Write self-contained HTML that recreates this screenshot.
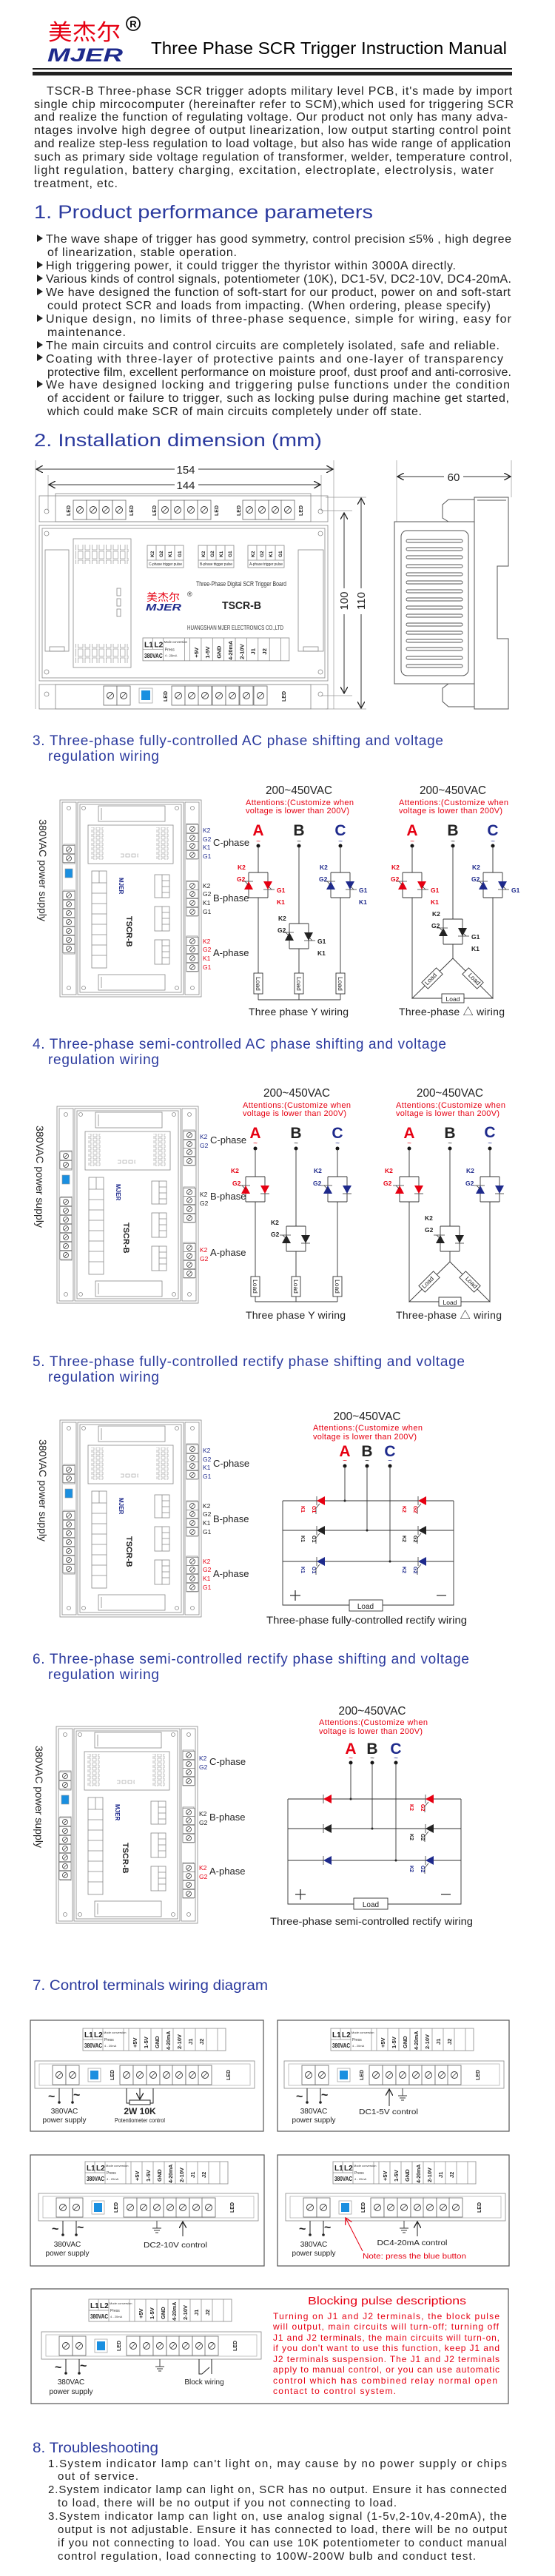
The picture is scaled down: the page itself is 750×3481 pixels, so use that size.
<!DOCTYPE html>
<html><head><meta charset="utf-8">
<style>
html,body{margin:0;padding:0;background:#fff;}
svg{display:block;}
text{font-family:"Liberation Sans","Noto Sans CJK SC",sans-serif;}
</style></head>
<body>
<svg xmlns="http://www.w3.org/2000/svg" xmlns:xlink="http://www.w3.org/1999/xlink" width="750" height="3481" viewBox="0 0 750 3481">
<defs>
<marker id="ar" markerWidth="10" markerHeight="10" refX="9" refY="5" orient="auto" markerUnits="userSpaceOnUse"><path d="M0,0L9,5L0,10" fill="none" stroke="#222" stroke-width="1.3"/></marker>
<marker id="arr" markerWidth="10" markerHeight="10" refX="9" refY="5" orient="auto" markerUnits="userSpaceOnUse"><path d="M0,0L9,5L0,10" fill="none" stroke="#e60012" stroke-width="1.3"/></marker>
<pattern id="sq" width="8" height="6" patternUnits="userSpaceOnUse"><rect x="1" y="1" width="5" height="4" fill="none" stroke="#999" stroke-width=".6"/></pattern>
<pattern id="sq2" width="9.5" height="12" patternUnits="userSpaceOnUse"><rect x="1" y="1" width="6.5" height="10" fill="none" stroke="#999" stroke-width=".7"/></pattern>
<g id="scv"><rect x="-8" y="-5.5" width="16" height="11" fill="#fff" stroke="#777" stroke-width=".7"/><circle r="3.5" fill="none" stroke="#333" stroke-width=".8"/><path d="M-2,2L2,-2" stroke="#333" stroke-width=".7"/></g>
<g id="sch"><rect x="-9" y="-13" width="18" height="26" fill="#fff" stroke="#666" stroke-width=".8"/><circle r="4.5" fill="none" stroke="#333" stroke-width=".9"/><path d="M-3,3L3,-3" stroke="#333" stroke-width=".8"/></g>
<g id="bd">
 <g fill="none" stroke="#888" stroke-width=".8">
 <rect x="0" y="0" width="191" height="266"/>
 <rect x="3" y="3" width="19" height="260"/>
 <rect x="169" y="3" width="19" height="260"/>
 <rect x="24" y="3" width="143" height="260"/>
 <rect x="27" y="6" width="137" height="254"/>
 <circle cx="12" cy="11" r="2.5"/><circle cx="179" cy="11" r="2.5"/><circle cx="12" cy="254" r="2.5"/><circle cx="179" cy="254" r="2.5"/>
 <circle cx="32" cy="11" r="2.5"/><circle cx="158" cy="11" r="2.5"/><circle cx="32" cy="254" r="2.5"/><circle cx="158" cy="254" r="2.5"/>
 <rect x="52" y="8" width="90" height="21"/><line x1="56" y1="11" x2="56" y2="27"/>
 <rect x="38" y="34" width="115" height="52"/>
 <rect x="42" y="37" width="17" height="44" fill="url(#sq)" stroke="none"/>
 <rect x="130" y="37" width="17" height="44" fill="url(#sq)" stroke="none"/>
 <rect x="82" y="72" width="24" height="6" fill="url(#sq)" stroke="none"/>
 <rect x="43" y="96" width="20" height="131"/>
 <path d="M43,112H63M43,126H63M43,140H63M43,154H63M43,168H63M43,182H63M43,196H63M43,210H63M53,96V112"/>
 <rect x="128" y="101" width="20" height="31"/><rect x="128" y="144" width="20" height="33"/><rect x="128" y="189" width="20" height="33"/>
 <path d="M138,101V132M138,144V177M138,189V222M138,109H148M138,117H148M138,125H148M138,152H148M138,160H148M138,168H148M138,197H148M138,205H148M138,213H148"/>
 <rect x="52" y="236" width="90" height="21"/><line x1="56" y1="239" x2="56" y2="254"/>
 <rect x="5" y="60" width="15" height="26"/><rect x="5" y="122" width="15" height="86"/>
 <rect x="171" y="32" width="15" height="48"/><rect x="171" y="109" width="15" height="48"/><rect x="171" y="184" width="15" height="48"/>
 </g>
 <use xlink:href="#scv" x="12" y="67"/><use xlink:href="#scv" x="12" y="79"/>
 <rect x="7" y="93" width="10" height="12" fill="#1a8fe0" stroke="#999" stroke-width=".6"/>
 <use xlink:href="#scv" x="12" y="129"/><use xlink:href="#scv" x="12" y="141"/><use xlink:href="#scv" x="12" y="153"/><use xlink:href="#scv" x="12" y="165"/><use xlink:href="#scv" x="12" y="177"/><use xlink:href="#scv" x="12" y="189"/><use xlink:href="#scv" x="12" y="201"/>
 <use xlink:href="#scv" x="179" y="39"/><use xlink:href="#scv" x="179" y="51"/><use xlink:href="#scv" x="179" y="62"/><use xlink:href="#scv" x="179" y="74"/>
 <use xlink:href="#scv" x="179" y="116"/><use xlink:href="#scv" x="179" y="127"/><use xlink:href="#scv" x="179" y="139"/><use xlink:href="#scv" x="179" y="151"/>
 <use xlink:href="#scv" x="179" y="191"/><use xlink:href="#scv" x="179" y="202"/><use xlink:href="#scv" x="179" y="214"/><use xlink:href="#scv" x="179" y="226"/>
</g>
<g id="pr">
 <path d="M-13,0H13M-13,0V34M13,0V34M-13,34H13" fill="none" stroke="#333" stroke-width=".9"/>
 <polygon points="-19,23 -7,23 -13,12" fill="currentColor"/><path d="M-19,12H-7M-13,17l-5,-5h-4" stroke="#333" stroke-width=".8" fill="none"/>
 <polygon points="7,12 19,12 13,23" fill="currentColor"/><path d="M7,23H19M13,18l5,5h4" stroke="#333" stroke-width=".8" fill="none"/>
</g>
<g id="ps">
 <path d="M-13,0H13M-13,0V34M13,0V34M-13,34H13" fill="none" stroke="#333" stroke-width=".9"/>
 <polygon points="-19,23 -7,23 -13,12" fill="currentColor"/><path d="M-19,12H-7M-13,17l-5,-5h-4" stroke="#333" stroke-width=".8" fill="none"/>
 <polygon points="7,12 19,12 13,23" fill="currentColor"/><path d="M7,23H19" stroke="#333" stroke-width=".8" fill="none"/>
</g>
<g id="dg"><polygon points="6,-6 6,6 -5,0" fill="currentColor"/><path d="M-5,-6V6M-1,4l-5,6v8" stroke="#333" stroke-width=".8" fill="none"/></g>
<g id="dp"><polygon points="6,-6 6,6 -5,0" fill="currentColor"/><path d="M-5,-6V6" stroke="#333" stroke-width=".8" fill="none"/></g>
<g id="gnd" stroke="#333" stroke-width=".9"><path d="M0,0V10M-6,10H6M-4,13H4M-2,16H2"/></g>
</defs>

<!-- HEADER -->
<text x="65" y="54" font-family="'Noto Serif CJK SC',serif" font-size="30" fill="#e60012" textLength="98" lengthAdjust="spacingAndGlyphs">美杰尔</text>
<text x="64" y="83" font-size="25" font-weight="bold" font-style="italic" fill="#1e2a8c" textLength="102" lengthAdjust="spacingAndGlyphs">MJER</text>
<circle cx="180" cy="32" r="9" fill="none" stroke="#111" stroke-width="1.8"/><text x="180" y="37" font-size="13" font-weight="bold" text-anchor="middle">R</text>
<text x="204" y="73" font-size="23" textLength="481" lengthAdjust="spacingAndGlyphs">Three Phase SCR Trigger Instruction Manual</text>
<rect x="44" y="92" width="648" height="2" fill="#222"/>
<rect x="44" y="97" width="648" height="5" fill="#222"/>

<g font-size="16" fill="#222" lengthAdjust="spacingAndGlyphs">
<text x="63" y="128" textLength="629">TSCR-B Three-phase SCR trigger  adopts  military level PCB, it's made by import</text>
<text x="46" y="146" textLength="648">single chip mircocomputer (hereinafter refer to SCM),which used for triggering SCR</text>
<text x="46" y="163" textLength="640">and realize the function of regulating voltage. Our product not only has many adva-</text>
<text x="46" y="181" textLength="644">ntages involve high degree of output linearization, low output  starting  control  point</text>
<text x="46" y="199" textLength="644">and realize step-less regulation to load voltage, but  also has wide range of application</text>
<text x="46" y="217" textLength="646">such as primary side voltage regulation of  transformer, welder, temperature control,</text>
<text x="46" y="235" textLength="621">light  regulation,  battery  charging,  excitation,  electroplate,  electrolysis, water</text>
<text x="46" y="253" textLength="113">treatment, etc.</text>
</g>

<text x="46" y="295" font-size="25" fill="#2b3a9e" textLength="458" lengthAdjust="spacingAndGlyphs">1. Product performance parameters</text>
<g fill="#222"><polygon points="50,317 58,322 50,327"/><polygon points="50,353 58,358 50,363"/><polygon points="50,371 58,376 50,381"/><polygon points="50,389 58,394 50,399"/><polygon points="50,425 58,430 50,435"/><polygon points="50,461 58,466 50,471"/><polygon points="50,478 58,483 50,488"/><polygon points="50,514 58,519 50,524"/></g>
<g font-size="16" fill="#222" lengthAdjust="spacingAndGlyphs">
<text x="62" y="328" textLength="629">The wave shape of trigger has good symmetry, control precision ≤5% , high degree</text>
<text x="64" y="346" textLength="256">of linearization, stable operation.</text>
<text x="62" y="364" textLength="554">High triggering power, it could trigger the thyristor within 3000A directly.</text>
<text x="62" y="382" textLength="629">Various kinds of control signals, potentiometer (10K), DC1-5V, DC2-10V, DC4-20mA.</text>
<text x="62" y="400" textLength="628">We have designed the function of soft-start for our product, power on and soft-start</text>
<text x="64" y="418" textLength="599">could protect SCR and loads from impacting. (When ordering, please specify)</text>
<text x="62" y="436" textLength="629">Unique design, no limits of three-phase sequence, simple for wiring, easy for</text>
<text x="64" y="454" textLength="106">maintenance.</text>
<text x="62" y="472" textLength="613">The main circuits and control circuits are completely isolated, safe and reliable.</text>
<text x="62" y="490" textLength="618">Coating with three-layer of protective paints and one-layer of transparency</text>
<text x="64" y="508" textLength="627">protective film, excellent performance on moisture proof, dust proof and anti-corrosive.</text>
<text x="62" y="525" textLength="627">We have designed locking and triggering pulse functions under the condition</text>
<text x="64" y="543" textLength="624">of accident or failure to trigger, such as locking pulse during machine get started,</text>
<text x="64" y="561" textLength="506">which could make SCR of main circuits completely under off state.</text>
</g>

<!-- SECTION 2 -->
<text x="46" y="603" font-size="24" fill="#2b3a9e" textLength="389" lengthAdjust="spacingAndGlyphs">2. Installation dimension (mm)</text>
<g stroke="#333" stroke-width="1" fill="none">
<path d="M48,622V958M451,622V958M65,642V690M434,642V690" stroke="#999" stroke-width=".7"/>
<line x1="236" y1="634" x2="49" y2="634" marker-end="url(#ar)"/><line x1="268" y1="634" x2="450" y2="634" marker-end="url(#ar)"/>
<line x1="236" y1="655" x2="66" y2="655" marker-end="url(#ar)"/><line x1="268" y1="655" x2="433" y2="655" marker-end="url(#ar)"/>
<path d="M434,690H476M434,940H476M440,672H495M440,958H495" stroke="#999" stroke-width=".7"/>
<line x1="465" y1="795" x2="465" y2="693" marker-end="url(#ar)"/><line x1="465" y1="830" x2="465" y2="937" marker-end="url(#ar)"/>
<line x1="488" y1="795" x2="488" y2="673" marker-end="url(#ar)"/><line x1="488" y1="830" x2="488" y2="957" marker-end="url(#ar)"/>
</g>
<g font-size="15" fill="#222">
<text x="251" y="640" text-anchor="middle">154</text><text x="251" y="661" text-anchor="middle">144</text>
<text transform="translate(470,812) rotate(-90)" text-anchor="middle">100</text>
<text transform="translate(493,812) rotate(-90)" text-anchor="middle">110</text>
</g>
<g fill="none" stroke="#888" stroke-width=".8">
<rect x="53" y="670" width="390" height="35"/><rect x="75" y="667" width="345" height="38"/>
<rect x="53" y="710" width="390" height="210"/><rect x="57" y="714" width="382" height="202"/>
<rect x="53" y="925" width="390" height="33"/><rect x="75" y="925" width="345" height="33"/>
<circle cx="63" cy="691" r="3"/><circle cx="433" cy="691" r="3"/><circle cx="63" cy="721" r="3"/><circle cx="433" cy="721" r="3"/>
<circle cx="63" cy="908" r="3"/><circle cx="433" cy="908" r="3"/><circle cx="63" cy="938" r="3"/><circle cx="433" cy="938" r="3"/>
<rect x="61" y="743" width="32" height="137"/><rect x="67" y="874" width="20" height="6"/>
<rect x="403" y="743" width="34" height="137"/><rect x="410" y="874" width="20" height="6"/>
<rect x="99" y="728" width="78" height="174"/>
<rect x="102" y="736" width="72" height="26" fill="url(#sq2)" stroke="none"/>
<rect x="102" y="870" width="72" height="26" fill="url(#sq2)" stroke="none"/>
<rect x="158" y="795" width="5" height="10"/><rect x="158" y="809" width="5" height="10"/><rect x="158" y="823" width="5" height="10"/>
<rect x="199" y="737" width="49" height="30"/><rect x="268" y="737" width="48" height="30"/><rect x="335" y="737" width="49" height="30"/>
<path d="M199,757H248M268,757H316M335,757H384M211,737V757M223,737V757M236,737V757M280,737V757M292,737V757M304,737V757M347,737V757M359,737V757M372,737V757"/>
</g>
<g font-size="6.5" font-weight="bold" fill="#222">
<text transform="translate(208,753) rotate(-90)">K2</text><text transform="translate(220,753) rotate(-90)">G2</text><text transform="translate(232,753) rotate(-90)">K1</text><text transform="translate(245,753) rotate(-90)">G1</text>
<text transform="translate(277,753) rotate(-90)">K2</text><text transform="translate(289,753) rotate(-90)">G2</text><text transform="translate(301,753) rotate(-90)">K1</text><text transform="translate(313,753) rotate(-90)">G1</text>
<text transform="translate(344,753) rotate(-90)">K2</text><text transform="translate(356,753) rotate(-90)">G2</text><text transform="translate(368,753) rotate(-90)">K1</text><text transform="translate(381,753) rotate(-90)">G1</text>
</g>
<g font-size="5" fill="#333"><text x="201" y="764" textLength="45">C-phase trigger pulse</text><text x="270" y="764" textLength="44">B-phase trigger pulse</text><text x="337" y="764" textLength="45">A-phase trigger pulse</text></g>
<text x="265" y="792" font-size="9" fill="#333" textLength="122" lengthAdjust="spacingAndGlyphs">Three-Phase Digital SCR Trigger Board</text>
<text x="198" y="812" font-family="'Noto Serif CJK SC',serif" font-size="14" fill="#e60012" textLength="45" lengthAdjust="spacingAndGlyphs">美杰尔</text>
<text x="197" y="825" font-size="13" font-weight="bold" font-style="italic" fill="#1e2a8c" textLength="48" lengthAdjust="spacingAndGlyphs">MJER</text>
<text x="253" y="806" font-size="9" fill="#222">®</text>
<text x="300" y="823" font-size="15" font-weight="bold" fill="#222" textLength="53" lengthAdjust="spacingAndGlyphs">TSCR-B</text>
<text x="253" y="851" font-size="8" fill="#333" textLength="130" lengthAdjust="spacingAndGlyphs">HUANGSHAN MJER ELECTRONICS CO.,LTD</text>
<!-- control label in top view -->
<g transform="translate(193,862) scale(1.025,1.03)">
 <rect width="193" height="30" fill="#fff" stroke="#888" stroke-width=".8"/>
 <path d="M13,0V15M27,0V30M0,15H27M55,0V30M62,0V30M77,0V30M92,0V30M107,0V30M122,0V30M137,0V30M152,0V30M167,0V30M182,0V30" stroke="#888" stroke-width=".7"/>
 <g font-weight="bold" fill="#222"><text x="2" y="12" font-size="10">L1</text><text x="15" y="12" font-size="10">L2</text><text x="2" y="26" font-size="8" textLength="24" lengthAdjust="spacingAndGlyphs">380VAC</text></g>
 <g font-size="4" fill="#333"><text x="28" y="7">Mode conversion</text><text x="29" y="17" font-size="5">Press</text><text x="29" y="25">4 - 20mA</text></g>
 <g font-size="7.5" font-weight="bold" fill="#222"><text transform="translate(73,26) rotate(-90)">+5V</text><text transform="translate(88,27) rotate(-90)">1-5V</text><text transform="translate(103,27) rotate(-90)">GND</text><text transform="translate(118,29) rotate(-90)" font-size="7">4-20mA</text><text transform="translate(133,28) rotate(-90)">2-10V</text><text transform="translate(148,22) rotate(-90)">J1</text><text transform="translate(163,22) rotate(-90)">J2</text></g>
</g>
<!-- top strip screws -->
<use xlink:href="#sch" x="108" y="689"/><use xlink:href="#sch" x="126" y="689"/><use xlink:href="#sch" x="143" y="689"/><use xlink:href="#sch" x="161" y="689"/>
<use xlink:href="#sch" x="223" y="689"/><use xlink:href="#sch" x="240" y="689"/><use xlink:href="#sch" x="258" y="689"/><use xlink:href="#sch" x="276" y="689"/>
<use xlink:href="#sch" x="337" y="689"/><use xlink:href="#sch" x="354" y="689"/><use xlink:href="#sch" x="372" y="689"/><use xlink:href="#sch" x="389" y="689"/>
<g font-size="7" font-weight="bold" fill="#222">
<text transform="translate(95,697) rotate(-90)">LED</text><text transform="translate(180,697) rotate(-90)">LED</text><text transform="translate(211,697) rotate(-90)">LED</text><text transform="translate(295,697) rotate(-90)">LED</text><text transform="translate(325,697) rotate(-90)">LED</text><text transform="translate(409,697) rotate(-90)">LED</text>
<text transform="translate(226,948) rotate(-90)">LED</text><text transform="translate(386,948) rotate(-90)">LED</text>
</g>
<use xlink:href="#sch" x="149" y="940"/><use xlink:href="#sch" x="167" y="940"/>
<rect x="188" y="930" width="18" height="20" fill="#fff" stroke="#999" stroke-width=".7"/><rect x="191" y="933" width="12" height="13" fill="#1a8fe0"/>
<use xlink:href="#sch" x="241" y="940"/><use xlink:href="#sch" x="259" y="940"/><use xlink:href="#sch" x="277" y="940"/><use xlink:href="#sch" x="296" y="940"/><use xlink:href="#sch" x="314" y="940"/><use xlink:href="#sch" x="333" y="940"/><use xlink:href="#sch" x="352" y="940"/>
<!-- side view -->
<g fill="none" stroke="#555" stroke-width="1">
<path d="M536,622V705M691,622V672" stroke="#999" stroke-width=".7"/>
<rect x="533" y="705" width="108" height="219"/>
<path d="M641,672H687V765H672V863H687V958H641Z"/><path d="M645,676H684"/>
<path d="M641,675H606L598,682V700L606,705M641,924H606L598,930V948L606,955H641"/>
<rect x="542" y="717" width="91" height="196" rx="8"/>
<g stroke-width=".9">
<rect x="549" y="729" width="76" height="4" rx="2"/><rect x="549" y="740" width="76" height="4" rx="2"/><rect x="549" y="751" width="76" height="4" rx="2"/><rect x="549" y="763" width="76" height="4" rx="2"/>
<rect x="549" y="774" width="76" height="4" rx="2"/><rect x="549" y="785" width="76" height="4" rx="2"/><rect x="549" y="797" width="76" height="4" rx="2"/><rect x="549" y="808" width="76" height="4" rx="2"/>
<rect x="549" y="819" width="76" height="4" rx="2"/><rect x="549" y="830" width="76" height="4" rx="2"/><rect x="549" y="842" width="76" height="4" rx="2"/><rect x="549" y="853" width="76" height="4" rx="2"/>
<rect x="549" y="864" width="76" height="4" rx="2"/><rect x="549" y="875" width="76" height="4" rx="2"/><rect x="549" y="887" width="76" height="4" rx="2"/><rect x="549" y="898" width="76" height="4" rx="2"/>
</g>
</g>
<g stroke="#333" stroke-width="1"><line x1="600" y1="644" x2="537" y2="644" marker-end="url(#ar)"/><line x1="626" y1="644" x2="690" y2="644" marker-end="url(#ar)"/></g>
<text x="613" y="650" font-size="15" text-anchor="middle" fill="#222">60</text>

<!-- SECTION 3 -->
<g font-size="19" fill="#2b3a9e" lengthAdjust="spacingAndGlyphs">
<text x="44" y="1007" textLength="555">3. Three-phase fully-controlled AC phase shifting and voltage</text>
<text x="65" y="1028" textLength="150">regulation wiring</text>
</g>
<use xlink:href="#bd" x="81" y="1081"/>
<text transform="translate(53,1107) rotate(90)" font-size="14" fill="#222" textLength="138" lengthAdjust="spacingAndGlyphs">380VAC power supply</text>
<text transform="translate(171,1238) rotate(90)" font-size="11" font-weight="bold" fill="#222">TSCR-B</text>
<text transform="translate(161,1186) rotate(90)" font-size="8" font-weight="bold" fill="#1e2a8c">MJER</text>
<g font-size="8.5"><g fill="#1e2a8c"><text x="274" y="1125">K2</text><text x="274" y="1137">G2</text><text x="274" y="1148">K1</text><text x="274" y="1160">G1</text></g>
<g fill="#222"><text x="274" y="1200">K2</text><text x="274" y="1211">G2</text><text x="274" y="1223">K1</text><text x="274" y="1235">G1</text></g>
<g fill="#e60012"><text x="274" y="1275">K2</text><text x="274" y="1286">G2</text><text x="274" y="1298">K1</text><text x="274" y="1310">G1</text></g></g>
<g font-size="13" fill="#222"><text x="288" y="1143">C-phase</text><text x="288" y="1218">B-phase</text><text x="288" y="1292">A-phase</text></g>

<g font-size="16" fill="#222" text-anchor="middle"><text x="404" y="1073" textLength="90" lengthAdjust="spacingAndGlyphs">200~450VAC</text><text x="612" y="1073" textLength="90" lengthAdjust="spacingAndGlyphs">200~450VAC</text></g>
<g font-size="11" fill="#e60012" lengthAdjust="spacingAndGlyphs"><text x="332" y="1088" textLength="146">Attentions:(Customize when</text><text x="332" y="1099" textLength="140">voltage is lower than 200V)</text><text x="539" y="1088" textLength="148">Attentions:(Customize when</text><text x="539" y="1099" textLength="140">voltage is lower than 200V)</text></g>
<g font-size="21" font-weight="bold" text-anchor="middle">
<text x="349" y="1129" fill="#e60012">A</text><text x="404" y="1129" fill="#222">B</text><text x="460" y="1129" fill="#1e2a8c">C</text>
<text x="557" y="1129" fill="#e60012">A</text><text x="612" y="1129" fill="#222">B</text><text x="666" y="1129" fill="#1e2a8c">C</text>
</g>
<g font-size="10" text-anchor="middle"><text x="349" y="1140" fill="#e60012">~</text><text x="404" y="1140" fill="#222">~</text><text x="460" y="1140" fill="#1e2a8c">~</text><text x="557" y="1140" fill="#e60012">~</text><text x="612" y="1140" fill="#222">~</text><text x="666" y="1140" fill="#1e2a8c">~</text></g>
<g fill="#111"><circle cx="349" cy="1143" r="2.5"/><circle cx="404" cy="1143" r="2.5"/><circle cx="460" cy="1143" r="2.5"/><circle cx="557" cy="1143" r="2.5"/><circle cx="612" cy="1143" r="2.5"/><circle cx="666" cy="1143" r="2.5"/></g>
<g stroke="#333" stroke-width=".9" fill="none">
<path d="M349,1143V1179M349,1213V1315M349,1343V1351M404,1143V1248M404,1282V1315M404,1343V1351M460,1143V1179M460,1213V1315M460,1343V1351M349,1351H460"/>
<path d="M557,1143V1179M557,1213V1349M666,1143V1179M666,1213V1349M612,1143V1242M612,1276V1295L557,1349H666L612,1295"/>
<rect x="343" y="1315" width="12" height="28" fill="#fff"/><rect x="398" y="1315" width="12" height="28" fill="#fff"/><rect x="454" y="1315" width="12" height="28" fill="#fff"/>
<rect x="597" y="1343" width="30" height="12" fill="#fff"/>
<rect x="-14" y="-6" width="28" height="12" fill="#fff" transform="translate(584,1322) rotate(-45)"/>
<rect x="-14" y="-6" width="28" height="12" fill="#fff" transform="translate(639,1322) rotate(45)"/>
</g>
<g font-size="8.5" fill="#222">
<text transform="translate(346,1320) rotate(90)">Load</text><text transform="translate(401,1320) rotate(90)">Load</text><text transform="translate(457,1320) rotate(90)">Load</text>
<text x="612" y="1353" text-anchor="middle">Load</text>
<text transform="translate(584,1325) rotate(-45)" text-anchor="middle">Load</text><text transform="translate(639,1325) rotate(45)" text-anchor="middle">Load</text>
</g>
<use xlink:href="#pr" x="349" y="1179" color="#e60012"/><use xlink:href="#pr" x="404" y="1248" color="#222"/><use xlink:href="#pr" x="460" y="1179" color="#1e2a8c"/>
<use xlink:href="#pr" x="557" y="1179" color="#e60012"/><use xlink:href="#pr" x="612" y="1242" color="#222"/><use xlink:href="#pr" x="666" y="1179" color="#1e2a8c"/>
<g font-size="8.5" font-weight="bold">
<g fill="#e60012"><text x="321" y="1175">K2</text><text x="320" y="1191">G2</text><text x="374" y="1206">G1</text><text x="374" y="1222">K1</text><text x="529" y="1175">K2</text><text x="528" y="1191">G2</text><text x="582" y="1206">G1</text><text x="582" y="1222">K1</text></g>
<g fill="#1e2a8c"><text x="432" y="1175">K2</text><text x="431" y="1191">G2</text><text x="485" y="1206">G1</text><text x="485" y="1222">K1</text><text x="638" y="1175">K2</text><text x="637" y="1191">G2</text><text x="691" y="1206">G1</text></g>
<g fill="#222"><text x="376" y="1244">K2</text><text x="375" y="1260">G2</text><text x="429" y="1275">G1</text><text x="429" y="1291">K1</text><text x="584" y="1238">K2</text><text x="583" y="1254">G2</text><text x="637" y="1269">G1</text><text x="637" y="1285">K1</text></g>
</g>
<g font-size="14" fill="#222" lengthAdjust="spacingAndGlyphs"><text x="336" y="1372" textLength="135">Three phase Y wiring</text><text x="539" y="1372" textLength="143">Three-phase △ wiring</text></g>

<!-- SECTION 4 -->
<g font-size="19" fill="#2b3a9e" lengthAdjust="spacingAndGlyphs">
<text x="44" y="1417" textLength="559">4. Three-phase semi-controlled AC phase shifting and voltage</text>
<text x="65" y="1438" textLength="150">regulation wiring</text>
</g>
<use xlink:href="#bd" x="77" y="1495"/>
<text transform="translate(49,1521) rotate(90)" font-size="14" fill="#222" textLength="138" lengthAdjust="spacingAndGlyphs">380VAC power supply</text>
<text transform="translate(167,1652) rotate(90)" font-size="11" font-weight="bold" fill="#222">TSCR-B</text>
<text transform="translate(157,1600) rotate(90)" font-size="8" font-weight="bold" fill="#1e2a8c">MJER</text>
<g font-size="8.5"><g fill="#1e2a8c"><text x="270" y="1539">K2</text><text x="270" y="1551">G2</text></g><g fill="#222"><text x="270" y="1617">K2</text><text x="270" y="1629">G2</text></g><g fill="#e60012"><text x="270" y="1692">K2</text><text x="270" y="1704">G2</text></g></g>
<g font-size="13" fill="#222"><text x="284" y="1545">C-phase</text><text x="284" y="1621">B-phase</text><text x="284" y="1697">A-phase</text></g>
<g font-size="16" fill="#222" text-anchor="middle"><text x="401" y="1482" textLength="90" lengthAdjust="spacingAndGlyphs">200~450VAC</text><text x="608" y="1482" textLength="90" lengthAdjust="spacingAndGlyphs">200~450VAC</text></g>
<g font-size="11" fill="#e60012" lengthAdjust="spacingAndGlyphs"><text x="328" y="1497" textLength="146">Attentions:(Customize when</text><text x="328" y="1508" textLength="140">voltage is lower than 200V)</text><text x="535" y="1497" textLength="148">Attentions:(Customize when</text><text x="535" y="1508" textLength="140">voltage is lower than 200V)</text></g>
<g font-size="21" font-weight="bold" text-anchor="middle">
<text x="345" y="1538" fill="#e60012">A</text><text x="400" y="1538" fill="#222">B</text><text x="456" y="1538" fill="#1e2a8c">C</text>
<text x="553" y="1538" fill="#e60012">A</text><text x="608" y="1538" fill="#222">B</text><text x="662" y="1537" fill="#1e2a8c">C</text>
</g>
<g font-size="10" text-anchor="middle"><text x="345" y="1548" fill="#e60012">~</text><text x="400" y="1548" fill="#222">~</text><text x="456" y="1548" fill="#1e2a8c">~</text><text x="553" y="1548" fill="#e60012">~</text><text x="608" y="1548" fill="#222">~</text><text x="662" y="1548" fill="#1e2a8c">~</text></g>
<g fill="#111"><circle cx="345" cy="1552" r="2.5"/><circle cx="400" cy="1552" r="2.5"/><circle cx="456" cy="1552" r="2.5"/><circle cx="553" cy="1552" r="2.5"/><circle cx="608" cy="1552" r="2.5"/><circle cx="662" cy="1552" r="2.5"/></g>
<g stroke="#333" stroke-width=".9" fill="none">
<path d="M345,1552V1590M345,1624V1725M345,1752V1759M400,1552V1657M400,1691V1725M400,1752V1759M456,1552V1590M456,1624V1725M456,1752V1759M345,1759H456"/>
<path d="M553,1552V1590M553,1624V1759M662,1552V1590M662,1624V1759M608,1552V1657M608,1691V1705L553,1759H662L608,1705"/>
<rect x="339" y="1725" width="12" height="27" fill="#fff"/><rect x="394" y="1725" width="12" height="27" fill="#fff"/><rect x="450" y="1725" width="12" height="27" fill="#fff"/>
<rect x="593" y="1753" width="30" height="12" fill="#fff"/>
<rect x="-14" y="-6" width="28" height="12" fill="#fff" transform="translate(580,1732) rotate(-45)"/>
<rect x="-14" y="-6" width="28" height="12" fill="#fff" transform="translate(635,1732) rotate(45)"/>
</g>
<g font-size="8.5" fill="#222">
<text transform="translate(342,1729) rotate(90)">Load</text><text transform="translate(397,1729) rotate(90)">Load</text><text transform="translate(453,1729) rotate(90)">Load</text>
<text x="608" y="1763" text-anchor="middle">Load</text>
<text transform="translate(580,1735) rotate(-45)" text-anchor="middle">Load</text><text transform="translate(635,1735) rotate(45)" text-anchor="middle">Load</text>
</g>
<use xlink:href="#ps" x="345" y="1590" color="#e60012"/><use xlink:href="#ps" x="400" y="1657" color="#222"/><use xlink:href="#ps" x="456" y="1590" color="#1e2a8c"/>
<use xlink:href="#ps" x="553" y="1590" color="#e60012"/><use xlink:href="#ps" x="608" y="1657" color="#222"/><use xlink:href="#ps" x="662" y="1590" color="#1e2a8c"/>
<g font-size="8.5" font-weight="bold">
<g fill="#e60012"><text x="312" y="1585">K2</text><text x="314" y="1602">G2</text><text x="520" y="1585">K2</text><text x="518" y="1602">G2</text></g>
<g fill="#1e2a8c"><text x="424" y="1585">K2</text><text x="423" y="1602">G2</text><text x="630" y="1585">K2</text><text x="629" y="1602">G2</text></g>
<g fill="#222"><text x="366" y="1655">K2</text><text x="366" y="1671">G2</text><text x="574" y="1649">K2</text><text x="574" y="1665">G2</text></g>
</g>
<g font-size="14" fill="#222" lengthAdjust="spacingAndGlyphs"><text x="332" y="1782" textLength="135">Three phase Y wiring</text><text x="535" y="1782" textLength="143">Three-phase △ wiring</text></g>

<!-- SECTION 5 -->
<g font-size="19" fill="#2b3a9e" lengthAdjust="spacingAndGlyphs">
<text x="44" y="1846" textLength="584">5. Three-phase fully-controlled rectify phase shifting and voltage</text>
<text x="65" y="1867" textLength="150">regulation wiring</text>
</g>
<use xlink:href="#bd" x="81" y="1919"/>
<text transform="translate(53,1945) rotate(90)" font-size="14" fill="#222" textLength="138" lengthAdjust="spacingAndGlyphs">380VAC power supply</text>
<text transform="translate(171,2076) rotate(90)" font-size="11" font-weight="bold" fill="#222">TSCR-B</text>
<text transform="translate(161,2024) rotate(90)" font-size="8" font-weight="bold" fill="#1e2a8c">MJER</text>
<g font-size="8.5"><g fill="#1e2a8c"><text x="274" y="1963">K2</text><text x="274" y="1975">G2</text><text x="274" y="1986">K1</text><text x="274" y="1998">G1</text></g>
<g fill="#222"><text x="274" y="2038">K2</text><text x="274" y="2049">G2</text><text x="274" y="2061">K1</text><text x="274" y="2073">G1</text></g>
<g fill="#e60012"><text x="274" y="2113">K2</text><text x="274" y="2124">G2</text><text x="274" y="2136">K1</text><text x="274" y="2148">G1</text></g></g>
<g font-size="13" fill="#222"><text x="288" y="1982">C-phase</text><text x="288" y="2057">B-phase</text><text x="288" y="2131">A-phase</text></g>
<text x="496" y="1919" font-size="16" fill="#222" text-anchor="middle" textLength="91" lengthAdjust="spacingAndGlyphs">200~450VAC</text>
<g font-size="11" fill="#e60012" lengthAdjust="spacingAndGlyphs"><text x="423" y="1933" textLength="148">Attentions:(Customize when</text><text x="423" y="1945" textLength="140">voltage is lower than 200V)</text></g>
<g font-size="21" font-weight="bold" text-anchor="middle"><text x="466" y="1968" fill="#e60012">A</text><text x="496" y="1968" fill="#222">B</text><text x="527" y="1968" fill="#1e2a8c">C</text></g>
<g font-size="10" text-anchor="middle"><text x="466" y="1977" fill="#e60012">~</text><text x="496" y="1977" fill="#222">~</text><text x="527" y="1977" fill="#1e2a8c">~</text></g>
<g fill="#111"><circle cx="466" cy="1981" r="2.5"/><circle cx="496" cy="1981" r="2.5"/><circle cx="527" cy="1981" r="2.5"/><circle cx="466" cy="2028" r="1.5"/><circle cx="496" cy="2068" r="1.5"/><circle cx="527" cy="2110" r="1.5"/></g>
<g stroke="#333" stroke-width=".9" fill="none">
<path d="M466,1981V2028M496,1981V2068M527,1981V2110M382,2028H613M382,2068H613M382,2110H613M382,2028V2169H472M517,2169H613V2028"/>
<rect x="472" y="2162" width="45" height="15" fill="#fff"/>
<path d="M392,2156H406M399,2149V2163M590,2156H603" stroke-width="1.3"/>
</g>
<text x="494" y="2174" font-size="10" text-anchor="middle" fill="#222">Load</text>
<use xlink:href="#dg" x="433" y="2028" color="#e60012"/><use xlink:href="#dg" x="570" y="2028" color="#e60012"/>
<use xlink:href="#dg" x="433" y="2068" color="#222"/><use xlink:href="#dg" x="570" y="2068" color="#222"/>
<use xlink:href="#dg" x="433" y="2110" color="#1e2a8c"/><use xlink:href="#dg" x="570" y="2110" color="#1e2a8c"/>
<g font-size="7" font-weight="bold">
<g fill="#e60012"><text transform="translate(407,2035) rotate(90)">K1</text><text transform="translate(422,2035) rotate(90)">G1</text><text transform="translate(544,2035) rotate(90)">K2</text><text transform="translate(559,2035) rotate(90)">G2</text></g>
<g fill="#222"><text transform="translate(407,2075) rotate(90)">K1</text><text transform="translate(422,2075) rotate(90)">G1</text><text transform="translate(544,2075) rotate(90)">K2</text><text transform="translate(559,2075) rotate(90)">G2</text></g>
<g fill="#1e2a8c"><text transform="translate(407,2117) rotate(90)">K1</text><text transform="translate(422,2117) rotate(90)">G1</text><text transform="translate(544,2117) rotate(90)">K2</text><text transform="translate(559,2117) rotate(90)">G2</text></g>
</g>
<path d="M378,2018V2040" stroke="none"/>
<text x="360" y="2194" font-size="14" fill="#222" textLength="271" lengthAdjust="spacingAndGlyphs">Three-phase fully-controlled rectify wiring</text>

<!-- SECTION 6 -->
<g font-size="19" fill="#2b3a9e" lengthAdjust="spacingAndGlyphs">
<text x="44" y="2248" textLength="590">6. Three-phase semi-controlled rectify phase shifting and voltage</text>
<text x="65" y="2269" textLength="150">regulation wiring</text>
</g>
<use xlink:href="#bd" x="76" y="2333"/>
<text transform="translate(48,2359) rotate(90)" font-size="14" fill="#222" textLength="138" lengthAdjust="spacingAndGlyphs">380VAC power supply</text>
<text transform="translate(166,2490) rotate(90)" font-size="11" font-weight="bold" fill="#222">TSCR-B</text>
<text transform="translate(156,2438) rotate(90)" font-size="8" font-weight="bold" fill="#1e2a8c">MJER</text>
<g font-size="8.5"><g fill="#1e2a8c"><text x="269" y="2379">K2</text><text x="269" y="2391">G2</text></g><g fill="#222"><text x="269" y="2454">K2</text><text x="269" y="2466">G2</text></g><g fill="#e60012"><text x="269" y="2527">K2</text><text x="269" y="2539">G2</text></g></g>
<g font-size="13" fill="#222"><text x="283" y="2385">C-phase</text><text x="283" y="2460">B-phase</text><text x="283" y="2533">A-phase</text></g>
<text x="503" y="2317" font-size="16" fill="#222" text-anchor="middle" textLength="91" lengthAdjust="spacingAndGlyphs">200~450VAC</text>
<g font-size="11" fill="#e60012" lengthAdjust="spacingAndGlyphs"><text x="431" y="2331" textLength="147">Attentions:(Customize when</text><text x="431" y="2343" textLength="140">voltage is lower than 200V)</text></g>
<g font-size="21" font-weight="bold" text-anchor="middle"><text x="474" y="2370" fill="#e60012">A</text><text x="503" y="2370" fill="#222">B</text><text x="535" y="2370" fill="#1e2a8c">C</text></g>
<g font-size="10" text-anchor="middle"><text x="474" y="2379" fill="#e60012">~</text><text x="503" y="2379" fill="#222">~</text><text x="535" y="2379" fill="#1e2a8c">~</text></g>
<g fill="#111"><circle cx="474" cy="2382" r="2.5"/><circle cx="503" cy="2382" r="2.5"/><circle cx="535" cy="2382" r="2.5"/><circle cx="474" cy="2431" r="1.5"/><circle cx="503" cy="2471" r="1.5"/><circle cx="535" cy="2514" r="1.5"/></g>
<g stroke="#333" stroke-width=".9" fill="none">
<path d="M474,2382V2431M503,2382V2471M535,2382V2514M389,2431H623M389,2471H623M389,2514H623M389,2431V2573H478M524,2573H623V2431"/>
<rect x="478" y="2565" width="46" height="15" fill="#fff"/>
<path d="M399,2560H413M406,2553V2567M596,2560H609" stroke-width="1.3"/>
</g>
<text x="501" y="2577" font-size="10" text-anchor="middle" fill="#222">Load</text>
<use xlink:href="#dp" x="442" y="2431" color="#e60012"/><use xlink:href="#dg" x="580" y="2431" color="#e60012"/>
<use xlink:href="#dp" x="442" y="2471" color="#222"/><use xlink:href="#dg" x="580" y="2471" color="#222"/>
<use xlink:href="#dp" x="442" y="2514" color="#1e2a8c"/><use xlink:href="#dg" x="580" y="2514" color="#1e2a8c"/>
<g font-size="7" font-weight="bold">
<g fill="#e60012"><text transform="translate(554,2438) rotate(90)">K2</text><text transform="translate(569,2438) rotate(90)">G2</text></g>
<g fill="#222"><text transform="translate(554,2478) rotate(90)">K2</text><text transform="translate(569,2478) rotate(90)">G2</text></g>
<g fill="#1e2a8c"><text transform="translate(554,2521) rotate(90)">K2</text><text transform="translate(569,2521) rotate(90)">G2</text></g>
</g>
<text x="365" y="2601" font-size="14" fill="#222" textLength="274" lengthAdjust="spacingAndGlyphs">Three-phase semi-controlled rectify wiring</text>

<!-- SECTION 7 -->
<text x="44" y="2689" font-size="19" fill="#2b3a9e" textLength="318" lengthAdjust="spacingAndGlyphs">7. Control terminals wiring diagram</text>
<g fill="none" stroke="#555" stroke-width="1.2">
<rect x="41" y="2730" width="315" height="150"/><rect x="375" y="2730" width="313" height="150"/>
<rect x="41" y="2912" width="316" height="150"/><rect x="375" y="2912" width="313" height="150"/>
<rect x="42" y="3093" width="645" height="155"/>
</g>

<!-- label block template repeated -->
<g id="L1blk" transform="translate(112,2741)">
 <rect width="193" height="30" fill="#fff" stroke="#888" stroke-width=".8"/>
 <path d="M13,0V15M27,0V30M0,15H27M55,0V30M62,0V30M77,0V30M92,0V30M107,0V30M122,0V30M137,0V30M152,0V30M167,0V30M182,0V30" stroke="#888" stroke-width=".7"/>
 <g font-weight="bold" fill="#222"><text x="2" y="12" font-size="10">L1</text><text x="15" y="12" font-size="10">L2</text><text x="2" y="26" font-size="8" textLength="24" lengthAdjust="spacingAndGlyphs">380VAC</text></g>
 <g font-size="4" fill="#333"><text x="28" y="7">Mode conversion</text><text x="29" y="17" font-size="5">Press</text><text x="29" y="25">4 - 20mA</text></g>
 <g font-size="7.5" font-weight="bold" fill="#222"><text transform="translate(73,26) rotate(-90)">+5V</text><text transform="translate(88,27) rotate(-90)">1-5V</text><text transform="translate(103,27) rotate(-90)">GND</text><text transform="translate(118,29) rotate(-90)" font-size="7">4-20mA</text><text transform="translate(133,28) rotate(-90)">2-10V</text><text transform="translate(148,22) rotate(-90)">J1</text><text transform="translate(163,22) rotate(-90)">J2</text></g>
</g>
<g transform="translate(447,2741)">
 <rect width="193" height="30" fill="#fff" stroke="#888" stroke-width=".8"/>
 <path d="M13,0V15M27,0V30M0,15H27M55,0V30M62,0V30M77,0V30M92,0V30M107,0V30M122,0V30M137,0V30M152,0V30M167,0V30M182,0V30" stroke="#888" stroke-width=".7"/>
 <g font-weight="bold" fill="#222"><text x="2" y="12" font-size="10">L1</text><text x="15" y="12" font-size="10">L2</text><text x="2" y="26" font-size="8" textLength="24" lengthAdjust="spacingAndGlyphs">380VAC</text></g>
 <g font-size="4" fill="#333"><text x="28" y="7">Mode conversion</text><text x="29" y="17" font-size="5">Press</text><text x="29" y="25">4 - 20mA</text></g>
 <g font-size="7.5" font-weight="bold" fill="#222"><text transform="translate(73,26) rotate(-90)">+5V</text><text transform="translate(88,27) rotate(-90)">1-5V</text><text transform="translate(103,27) rotate(-90)">GND</text><text transform="translate(118,29) rotate(-90)" font-size="7">4-20mA</text><text transform="translate(133,28) rotate(-90)">2-10V</text><text transform="translate(148,22) rotate(-90)">J1</text><text transform="translate(163,22) rotate(-90)">J2</text></g>
</g>
<g transform="translate(115,2921)">
 <rect width="193" height="30" fill="#fff" stroke="#888" stroke-width=".8"/>
 <path d="M13,0V15M27,0V30M0,15H27M55,0V30M62,0V30M77,0V30M92,0V30M107,0V30M122,0V30M137,0V30M152,0V30M167,0V30M182,0V30" stroke="#888" stroke-width=".7"/>
 <g font-weight="bold" fill="#222"><text x="2" y="12" font-size="10">L1</text><text x="15" y="12" font-size="10">L2</text><text x="2" y="26" font-size="8" textLength="24" lengthAdjust="spacingAndGlyphs">380VAC</text></g>
 <g font-size="4" fill="#333"><text x="28" y="7">Mode conversion</text><text x="29" y="17" font-size="5">Press</text><text x="29" y="25">4 - 20mA</text></g>
 <g font-size="7.5" font-weight="bold" fill="#222"><text transform="translate(73,26) rotate(-90)">+5V</text><text transform="translate(88,27) rotate(-90)">1-5V</text><text transform="translate(103,27) rotate(-90)">GND</text><text transform="translate(118,29) rotate(-90)" font-size="7">4-20mA</text><text transform="translate(133,28) rotate(-90)">2-10V</text><text transform="translate(148,22) rotate(-90)">J1</text><text transform="translate(163,22) rotate(-90)">J2</text></g>
</g>
<g transform="translate(450,2921)">
 <rect width="193" height="30" fill="#fff" stroke="#888" stroke-width=".8"/>
 <path d="M13,0V15M27,0V30M0,15H27M55,0V30M62,0V30M77,0V30M92,0V30M107,0V30M122,0V30M137,0V30M152,0V30M167,0V30M182,0V30" stroke="#888" stroke-width=".7"/>
 <g font-weight="bold" fill="#222"><text x="2" y="12" font-size="10">L1</text><text x="15" y="12" font-size="10">L2</text><text x="2" y="26" font-size="8" textLength="24" lengthAdjust="spacingAndGlyphs">380VAC</text></g>
 <g font-size="4" fill="#333"><text x="28" y="7">Mode conversion</text><text x="29" y="17" font-size="5">Press</text><text x="29" y="25">4 - 20mA</text></g>
 <g font-size="7.5" font-weight="bold" fill="#222"><text transform="translate(73,26) rotate(-90)">+5V</text><text transform="translate(88,27) rotate(-90)">1-5V</text><text transform="translate(103,27) rotate(-90)">GND</text><text transform="translate(118,29) rotate(-90)" font-size="7">4-20mA</text><text transform="translate(133,28) rotate(-90)">2-10V</text><text transform="translate(148,22) rotate(-90)">J1</text><text transform="translate(163,22) rotate(-90)">J2</text></g>
</g>
<g transform="translate(120,3107)">
 <rect width="193" height="30" fill="#fff" stroke="#888" stroke-width=".8"/>
 <path d="M13,0V15M27,0V30M0,15H27M55,0V30M62,0V30M77,0V30M92,0V30M107,0V30M122,0V30M137,0V30M152,0V30M167,0V30M182,0V30" stroke="#888" stroke-width=".7"/>
 <g font-weight="bold" fill="#222"><text x="2" y="12" font-size="10">L1</text><text x="15" y="12" font-size="10">L2</text><text x="2" y="26" font-size="8" textLength="24" lengthAdjust="spacingAndGlyphs">380VAC</text></g>
 <g font-size="4" fill="#333"><text x="28" y="7">Mode conversion</text><text x="29" y="17" font-size="5">Press</text><text x="29" y="25">4 - 20mA</text></g>
 <g font-size="7.5" font-weight="bold" fill="#222"><text transform="translate(73,26) rotate(-90)">+5V</text><text transform="translate(88,27) rotate(-90)">1-5V</text><text transform="translate(103,27) rotate(-90)">GND</text><text transform="translate(118,29) rotate(-90)" font-size="7">4-20mA</text><text transform="translate(133,28) rotate(-90)">2-10V</text><text transform="translate(148,22) rotate(-90)">J1</text><text transform="translate(163,22) rotate(-90)">J2</text></g>
</g>

<!-- strips -->
<g id="strips">
<g transform="translate(47,2785)">
 <rect width="297" height="37" fill="#fff" stroke="#888" stroke-width=".8"/><rect x="6" y="4" width="285" height="29" fill="none" stroke="#aaa" stroke-width=".7"/>
 <use xlink:href="#sch" x="33" y="19"/><use xlink:href="#sch" x="51" y="19"/>
 <rect x="72" y="10" width="17" height="18" fill="#fff" stroke="#999" stroke-width=".7"/><rect x="75" y="13" width="11" height="12" fill="#1a8fe0"/>
 <use xlink:href="#sch" x="124" y="19"/><use xlink:href="#sch" x="142" y="19"/><use xlink:href="#sch" x="160" y="19"/><use xlink:href="#sch" x="178" y="19"/><use xlink:href="#sch" x="195" y="19"/><use xlink:href="#sch" x="213" y="19"/><use xlink:href="#sch" x="230" y="19"/>
 <g font-size="7" font-weight="bold" fill="#222"><text transform="translate(107,26) rotate(-90)">LED</text><text transform="translate(264,26) rotate(-90)">LED</text></g>
</g>
<g transform="translate(384,2785)">
 <rect width="297" height="37" fill="#fff" stroke="#888" stroke-width=".8"/><rect x="6" y="4" width="285" height="29" fill="none" stroke="#aaa" stroke-width=".7"/>
 <use xlink:href="#sch" x="33" y="19"/><use xlink:href="#sch" x="51" y="19"/>
 <rect x="72" y="10" width="17" height="18" fill="#fff" stroke="#999" stroke-width=".7"/><rect x="75" y="13" width="11" height="12" fill="#1a8fe0"/>
 <use xlink:href="#sch" x="124" y="19"/><use xlink:href="#sch" x="142" y="19"/><use xlink:href="#sch" x="160" y="19"/><use xlink:href="#sch" x="178" y="19"/><use xlink:href="#sch" x="195" y="19"/><use xlink:href="#sch" x="213" y="19"/><use xlink:href="#sch" x="230" y="19"/>
 <g font-size="7" font-weight="bold" fill="#222"><text transform="translate(107,26) rotate(-90)">LED</text><text transform="translate(264,26) rotate(-90)">LED</text></g>
</g>
<g transform="translate(52,2964)">
 <rect width="297" height="37" fill="#fff" stroke="#888" stroke-width=".8"/><rect x="6" y="4" width="285" height="29" fill="none" stroke="#aaa" stroke-width=".7"/>
 <use xlink:href="#sch" x="33" y="19"/><use xlink:href="#sch" x="51" y="19"/>
 <rect x="72" y="10" width="17" height="18" fill="#fff" stroke="#999" stroke-width=".7"/><rect x="75" y="13" width="11" height="12" fill="#1a8fe0"/>
 <use xlink:href="#sch" x="124" y="19"/><use xlink:href="#sch" x="142" y="19"/><use xlink:href="#sch" x="160" y="19"/><use xlink:href="#sch" x="178" y="19"/><use xlink:href="#sch" x="195" y="19"/><use xlink:href="#sch" x="213" y="19"/><use xlink:href="#sch" x="230" y="19"/>
 <g font-size="7" font-weight="bold" fill="#222"><text transform="translate(107,26) rotate(-90)">LED</text><text transform="translate(264,26) rotate(-90)">LED</text></g>
</g>
<g transform="translate(386,2964)">
 <rect width="297" height="37" fill="#fff" stroke="#888" stroke-width=".8"/><rect x="6" y="4" width="285" height="29" fill="none" stroke="#aaa" stroke-width=".7"/>
 <use xlink:href="#sch" x="33" y="19"/><use xlink:href="#sch" x="51" y="19"/>
 <rect x="72" y="10" width="17" height="18" fill="#fff" stroke="#999" stroke-width=".7"/><rect x="75" y="13" width="11" height="12" fill="#1a8fe0"/>
 <use xlink:href="#sch" x="124" y="19"/><use xlink:href="#sch" x="142" y="19"/><use xlink:href="#sch" x="160" y="19"/><use xlink:href="#sch" x="178" y="19"/><use xlink:href="#sch" x="195" y="19"/><use xlink:href="#sch" x="213" y="19"/><use xlink:href="#sch" x="230" y="19"/>
 <g font-size="7" font-weight="bold" fill="#222"><text transform="translate(107,26) rotate(-90)">LED</text><text transform="translate(264,26) rotate(-90)">LED</text></g>
</g>
<g transform="translate(56,3151)">
 <rect width="297" height="37" fill="#fff" stroke="#888" stroke-width=".8"/><rect x="6" y="4" width="285" height="29" fill="none" stroke="#aaa" stroke-width=".7"/>
 <use xlink:href="#sch" x="33" y="19"/><use xlink:href="#sch" x="51" y="19"/>
 <rect x="72" y="10" width="17" height="18" fill="#fff" stroke="#999" stroke-width=".7"/><rect x="75" y="13" width="11" height="12" fill="#1a8fe0"/>
 <use xlink:href="#sch" x="124" y="19"/><use xlink:href="#sch" x="142" y="19"/><use xlink:href="#sch" x="160" y="19"/><use xlink:href="#sch" x="178" y="19"/><use xlink:href="#sch" x="195" y="19"/><use xlink:href="#sch" x="213" y="19"/><use xlink:href="#sch" x="230" y="19"/>
 <g font-size="7" font-weight="bold" fill="#222"><text transform="translate(107,26) rotate(-90)">LED</text><text transform="translate(264,26) rotate(-90)">LED</text></g>
</g>
</g>

<!-- wiring annotations -->
<g stroke="#222" stroke-width="1" fill="none">
<path d="M80,2822V2841M98,2822V2841M415,2822V2841M433,2822V2841M85,3001V3020M103,3001V3020M419,3001V3020M437,3001V3020M89,3188V3207M107,3188V3207"/>
<path d="M171,2822V2842H175M207,2822V2842H203"/><rect x="175" y="2838" width="28" height="6"/>
<line x1="189" y1="2822" x2="189" y2="2837" marker-end="url(#ar)"/>
<line x1="526" y1="2846" x2="526" y2="2823" marker-end="url(#ar)"/>
<line x1="247" y1="3022" x2="247" y2="3002" marker-end="url(#ar)"/>
<line x1="564" y1="3022" x2="564" y2="3002" marker-end="url(#ar)"/>
<path d="M269,3188V3208H273M286,3188V3208M273,3208L283,3199"/>
</g>
<use xlink:href="#gnd" x="544" y="2822"/><use xlink:href="#gnd" x="212" y="3001"/><use xlink:href="#gnd" x="546" y="3001"/><use xlink:href="#gnd" x="216" y="3188"/>
<line x1="490" y1="3042" x2="467" y2="2997" stroke="#e60012" stroke-width="1" marker-end="url(#arr)"/>
<g fill="#222"><circle cx="80" cy="2841" r="1.8"/><circle cx="98" cy="2841" r="1.8"/><circle cx="415" cy="2841" r="1.8"/><circle cx="433" cy="2841" r="1.8"/><circle cx="85" cy="3020" r="1.8"/><circle cx="103" cy="3020" r="1.8"/><circle cx="419" cy="3020" r="1.8"/><circle cx="437" cy="3020" r="1.8"/><circle cx="89" cy="3207" r="1.8"/><circle cx="107" cy="3207" r="1.8"/></g>
<g font-size="16" font-weight="bold" fill="#222"><text x="65" y="2838">~</text><text x="99" y="2836">~</text><text x="400" y="2838">~</text><text x="434" y="2836">~</text><text x="70" y="3017">~</text><text x="104" y="3015">~</text><text x="404" y="3017">~</text><text x="438" y="3015">~</text><text x="74" y="3204">~</text><text x="108" y="3202">~</text></g>
<g font-size="10" fill="#222" text-anchor="middle">
<text x="87" y="2856">380VAC</text><text x="87" y="2868">power supply</text>
<text x="424" y="2856">380VAC</text><text x="424" y="2868">power supply</text>
<text x="91" y="3036">380VAC</text><text x="91" y="3048">power supply</text>
<text x="424" y="3036">380VAC</text><text x="424" y="3048">power supply</text>
<text x="96" y="3222">380VAC</text><text x="96" y="3235">power supply</text>
<text x="189" y="2857" font-size="12" font-weight="bold" font-family="'DejaVu Sans',sans-serif">2W 10K</text>
<text x="189" y="2868" font-size="8" textLength="68" lengthAdjust="spacingAndGlyphs">Potentiometer control</text>
<text x="525" y="2857" textLength="80" lengthAdjust="spacingAndGlyphs">DC1-5V control</text>
<text x="237" y="3037" textLength="86" lengthAdjust="spacingAndGlyphs">DC2-10V control</text>
<text x="557" y="3034" textLength="95" lengthAdjust="spacingAndGlyphs">DC4-20mA control</text>
<text x="276" y="3222">Block wiring</text>
</g>
<text x="490" y="3052" font-size="10" fill="#e60012" textLength="140" lengthAdjust="spacingAndGlyphs">Note: press the blue button</text>
<text x="523" y="3114" font-size="15" fill="#e60012" text-anchor="middle" textLength="214" lengthAdjust="spacingAndGlyphs">Blocking pulse descriptions</text>
<g font-size="12" fill="#e60012" lengthAdjust="spacingAndGlyphs">
<text x="369" y="3134" textLength="306">Turning  on J1 and J2 terminals, the block pulse</text>
<text x="369" y="3148" textLength="305">will output, main circuits will turn-off; turning off</text>
<text x="369" y="3163" textLength="306">J1 and J2 terminals, the main circuits will turn-on,</text>
<text x="369" y="3177" textLength="306">if you don't want to use this function, keep J1 and</text>
<text x="369" y="3192" textLength="306">J2 terminals suspension. The J1 and J2 terminals</text>
<text x="369" y="3206" textLength="306">apply to manual control, or you can use automatic</text>
<text x="369" y="3221" textLength="303">control  which has combined relay normal open</text>
<text x="369" y="3235" textLength="166">contact to control system.</text>
</g>

<!-- SECTION 8 -->
<text x="44" y="3314" font-size="19" fill="#2b3a9e" textLength="170" lengthAdjust="spacingAndGlyphs">8. Troubleshooting</text>
<g font-size="15" fill="#222" lengthAdjust="spacingAndGlyphs">
<text x="65" y="3334" textLength="620">1.System  indicator  lamp  can't  light on, may cause by no power supply or chips</text>
<text x="78" y="3351" textLength="109">out of service.</text>
<text x="65" y="3369" textLength="620">2.System indicator lamp can light on, SCR has no output. Ensure it has connected</text>
<text x="78" y="3387" textLength="458">to load, there will be no output if you not connecting to load.</text>
<text x="65" y="3405" textLength="620">3.System indicator lamp can light on, use analog signal (1-5v,2-10v,4-20mA), the</text>
<text x="78" y="3423" textLength="607">output is not adjustable. Ensure it has connected to load, there will be no output</text>
<text x="78" y="3441" textLength="607">if you not connecting to load. You can use 10K potentiometer to conduct manual</text>
<text x="78" y="3459" textLength="565">control regulation, load connecting to 100W-200W bulb and conduct test.</text>
</g>
</svg>
</body></html>
